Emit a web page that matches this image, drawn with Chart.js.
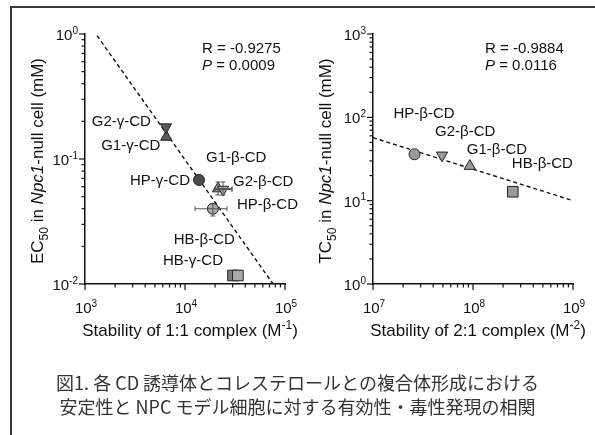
<!DOCTYPE html>
<html>
<head>
<meta charset="utf-8">
<script src="https://cdn.jsdelivr.net/npm/chart.js@4.4.1/dist/chart.umd.min.js"></script>
<style>
    html, body { margin: 0; padding: 0; background: #fff; }
    #wrap { position: relative; width: 595px; height: 435px; overflow: hidden; }
    #frame { position: absolute; left: 10px; top: 6px; right: -10px; bottom: -10px;
             border-left: 2px solid #3a3a3a; border-top: 2px solid #3a3a3a; }
    canvas { position: absolute; left: 0; top: 0; }
    #caption { position: absolute; left: 0; top: 370px; width: 595px; text-align: center;
               font-family: 'Noto Sans CJK JP', sans-serif; font-size: 18px; line-height: 24px; color: #333; }
</style>
</head>
<body>
<div id="wrap">
    <div id="frame"></div>
    <canvas id="ecChart" width="595" height="435"></canvas>
    <canvas id="tcChart" width="595" height="435"></canvas>
    <div id="caption">図1. 各 CD 誘導体とコレステロールとの複合体形成における<br>安定性と NPC モデル細胞に対する有効性・毒性発現の相関</div>
</div>
<script>
// ---- data: left panel (1:1 complex vs EC50)
const ecNames = ['HB-γ-CD', 'HB-β-CD', 'G1-γ-CD', 'G2-γ-CD', 'HP-γ-CD', 'G1-β-CD', 'G2-β-CD', 'HP-β-CD'];
const stab11 = [30200, 33800, 6500, 6450, 13800, 21400, 24000, 19000];
const ec50 = [0.0117, 0.0117, 0.15, 0.18, 0.068, 0.058, 0.057, 0.040];
// error bars (null = none)
const stab11Low = [null, null, null, null, null, 20000, 20000, 12600];
const stab11High = [null, null, null, null, null, 29500, 29500, 26300];
const ec50Low = [null, null, null, null, null, 0.0515, 0.0515, 0.035];
const ec50High = [null, null, null, null, null, 0.0655, 0.0655, 0.0437];
const ecFitX = [1320, 76000];
const ecFitY = [0.97, 0.01];
const ecTicks = [0.01, 0.1, 1];
const stab11Ticks = [1e3, 1e4, 1e5];

// ---- data: right panel (2:1 complex vs TC50)
const tcNames = ['HP-β-CD', 'G2-β-CD', 'G1-β-CD', 'HB-β-CD'];
const stab21 = [2.6e7, 4.9e7, 9.3e7, 2.5e8];
const tc50 = [36, 35, 26, 12.8];
const tcFitX = [1e7, 1e9];
const tcFitY = [57, 10];
const tcTicks = [1, 10, 100, 1000];
const stab21Ticks = [1e7, 1e8, 1e9];

const FONT = "'Liberation Sans', Arial, sans-serif";
const DARK = '#5a5a5a';
const LIGHT = '#ababab';

function fontOf(s, size) {
    return (s.it ? 'italic ' : '') + (s.sub || s.sup ? Math.round(size * 0.68) : size) + 'px ' + FONT;
}

// draw a line of mixed text (italic / sub / sup) at baseline y
function drawRich(ctx, segs, x, y, align, size) {
    let w = 0;
    segs.forEach(s => { ctx.font = fontOf(s, size); s.w = ctx.measureText(s.t).width; w += s.w; });
    let cx = align === 'center' ? x - w / 2 : align === 'right' ? x - w : x;
    ctx.textAlign = 'left';
    ctx.textBaseline = 'alphabetic';
    segs.forEach(s => {
        ctx.font = fontOf(s, size);
        const dy = s.sub ? size * 0.3 : s.sup ? -size * 0.42 : 0;
        ctx.fillText(s.t, cx, y + dy);
        cx += s.w;
    });
}

function powLabel(v) {
    return [{ t: '10' }, { t: String(Math.round(Math.log10(v))), sup: true }];
}

// custom log axes: decade ticks + minor ticks, 10^n labels, titles, annotations
const panelDecor = {
    id: 'panelDecor',
    afterDraw(chart, args, o) {
        const ctx = chart.ctx;
        const xs = chart.scales.x, ys = chart.scales.y;
        const a = chart.chartArea;
        ctx.save();
        ctx.strokeStyle = '#111';
        ctx.fillStyle = '#111';
        ctx.lineWidth = 1.2;

        // x ticks
        const xt = o.xTicks;
        for (let i = 0; i < xt.length; i++) {
            const px = xs.getPixelForValue(xt[i]);
            ctx.beginPath(); ctx.moveTo(px, a.bottom); ctx.lineTo(px, a.bottom + 6); ctx.stroke();
            drawRich(ctx, powLabel(xt[i]), px + 1, a.bottom + 29, 'center', 15);
            if (i < xt.length - 1) {
                for (let m = 2; m <= 9; m++) {
                    const q = xs.getPixelForValue(xt[i] * m);
                    ctx.beginPath(); ctx.moveTo(q, a.bottom); ctx.lineTo(q, a.bottom + 3.5); ctx.stroke();
                }
            }
        }
        // y ticks
        const yt = o.yTicks;
        for (let i = 0; i < yt.length; i++) {
            const py = ys.getPixelForValue(yt[i]);
            ctx.beginPath(); ctx.moveTo(a.left, py); ctx.lineTo(a.left - 6, py); ctx.stroke();
            drawRich(ctx, powLabel(yt[i]), a.left - 7, py + 6, 'right', 15);
            if (i < yt.length - 1) {
                for (let m = 2; m <= 9; m++) {
                    const q = ys.getPixelForValue(yt[i] * m);
                    ctx.beginPath(); ctx.moveTo(a.left, q); ctx.lineTo(a.left - 3.5, q); ctx.stroke();
                }
            }
        }

        // axis titles
        drawRich(ctx, o.xTitle, (a.left + a.right) / 2 + 5, a.bottom + 52, 'center', 17);
        ctx.save();
        ctx.translate(a.left - 42, (a.top + a.bottom) / 2 + 2);
        ctx.rotate(-Math.PI / 2);
        drawRich(ctx, o.yTitle, 0, 0, 'center', 17);
        ctx.restore();

        // R / P
        drawRich(ctx, [{ t: 'R = ' + o.r }], o.statX, 53, 'left', 15);
        drawRich(ctx, [{ t: 'P', it: true }, { t: ' = ' + o.p }], o.statX, 70, 'left', 15);

        // error bars
        const meta = chart.getDatasetMeta(1);
        if (o.err) {
            const e = o.err;
            ctx.lineWidth = 1;
            ctx.strokeStyle = '#555';
            for (let i = 0; i < e.xl.length; i++) {
                if (e.xl[i] == null) continue;
                const pt = meta.data[i];
                const x1 = xs.getPixelForValue(e.xl[i]), x2 = xs.getPixelForValue(e.xh[i]);
                const y1 = ys.getPixelForValue(e.yl[i]), y2 = ys.getPixelForValue(e.yh[i]);
                ctx.beginPath();
                ctx.moveTo(x1, pt.y); ctx.lineTo(x2, pt.y);
                ctx.moveTo(x1, pt.y - 2.5); ctx.lineTo(x1, pt.y + 2.5);
                ctx.moveTo(x2, pt.y - 2.5); ctx.lineTo(x2, pt.y + 2.5);
                ctx.moveTo(pt.x, y1); ctx.lineTo(pt.x, y2);
                ctx.moveTo(pt.x - 2.5, y1); ctx.lineTo(pt.x + 2.5, y1);
                ctx.moveTo(pt.x - 2.5, y2); ctx.lineTo(pt.x + 2.5, y2);
                ctx.stroke();
            }
        }

        // point labels, offset from each point
        ctx.fillStyle = '#111';
        o.names.forEach((name, i) => {
            const pt = meta.data[i];
            const off = o.offsets[i];
            const parts = name.split(/([βγ])/).filter(Boolean).map(t => ({ t }));
            drawRich(ctx, parts, pt.x + off[0], pt.y + off[1] + 5, off[2], 15);
        });
        ctx.restore();
    }
};

function baseOptions(pad, decor) {
    const axis = (ticks) => ({
        type: 'logarithmic', min: ticks[0], max: ticks[ticks.length - 1],
        ticks: { display: false },
        grid: { display: false, drawTicks: false, tickLength: 0 },
        border: { color: '#111', width: 1.5 }
    });
    return {
        responsive: false,
        animation: false,
        events: [],
        layout: { padding: pad },
        plugins: { legend: { display: false }, tooltip: { enabled: false }, panelDecor: decor },
        scales: { x: axis(decor.xTicks), y: axis(decor.yTicks) }
    };
}

function toPoints(xs, ys) {
    return xs.map((x, i) => ({ x: x, y: ys[i] }));
}

// 1. LEFT PANEL
new Chart(document.getElementById('ecChart'), {
    type: 'scatter',
    plugins: [panelDecor],
    data: {
        datasets: [
            {
                type: 'line', data: toPoints(ecFitX, ecFitY), borderColor: '#111', borderWidth: 1.4,
                borderDash: [4, 3], pointRadius: 0, fill: false, order: 2, clip: false
            },
            {
                data: toPoints(stab11, ec50),
                pointStyle: ['rect', 'rect', 'triangle', 'triangle', 'circle', 'triangle', 'triangle', 'circle'],
                pointRotation: [0, 0, 0, 180, 0, 0, 180, 0],
                pointRadius: [7.5, 7.5, 6.5, 6.5, 5.5, 6.5, 6.5, 5.5],
                pointBackgroundColor: ['#7b7b7b', LIGHT, DARK, DARK, '#4a4a4a', LIGHT, LIGHT, LIGHT],
                pointBorderColor: '#222', pointBorderWidth: 1, order: 1, clip: false
            }
        ]
    },
    options: baseOptions({ left: 85, top: 34, right: 310, bottom: 151 }, {
        xTicks: stab11Ticks, yTicks: ecTicks,
        xTitle: [{ t: 'Stability of 1:1 complex (M' }, { t: '-1', sup: true }, { t: ')' }],
        yTitle: [{ t: 'EC' }, { t: '50', sub: true }, { t: ' in ' }, { t: 'Npc1', it: true }, { t: '-null cell (mM)' }],
        r: '-0.9275', p: '0.0009', statX: 202,
        names: ecNames,
        offsets: [[-10, -15, 'right'], [-3, -36, 'right'], [-6, 8, 'right'], [-15, -6, 'right'],
                  [-9, 0, 'right'], [-12, -32, 'left'], [10, -9, 'left'], [24, -5, 'left']],
        err: { xl: stab11Low, xh: stab11High, yl: ec50Low, yh: ec50High }
    })
});

// 2. RIGHT PANEL
new Chart(document.getElementById('tcChart'), {
    type: 'scatter',
    plugins: [panelDecor],
    data: {
        datasets: [
            {
                type: 'line', data: toPoints(tcFitX, tcFitY), borderColor: '#111', borderWidth: 1.4,
                borderDash: [4, 3], pointRadius: 0, fill: false, order: 2, clip: false
            },
            {
                data: toPoints(stab21, tc50),
                pointStyle: ['circle', 'triangle', 'triangle', 'rect'],
                pointRotation: [0, 180, 0, 0],
                pointRadius: [5.5, 6.5, 6.5, 7.5],
                pointBackgroundColor: '#9a9a9a',
                pointBorderColor: '#222', pointBorderWidth: 1, order: 1, clip: false
            }
        ]
    },
    options: baseOptions({ left: 373, top: 34, right: 22, bottom: 151 }, {
        xTicks: stab21Ticks, yTicks: tcTicks,
        xTitle: [{ t: 'Stability of 2:1 complex (M' }, { t: '-2', sup: true }, { t: ')' }],
        yTitle: [{ t: 'TC' }, { t: '50', sub: true }, { t: ' in ' }, { t: 'Npc1', it: true }, { t: '-null cell (mM)' }],
        r: '-0.9884', p: '0.0116', statX: 485,
        names: tcNames,
        offsets: [[-21, -41, 'left'], [-7, -24, 'left'], [-3, -17, 'left'], [-1, -29, 'left']],
        err: null
    })
});
</script>
</body>
</html>
